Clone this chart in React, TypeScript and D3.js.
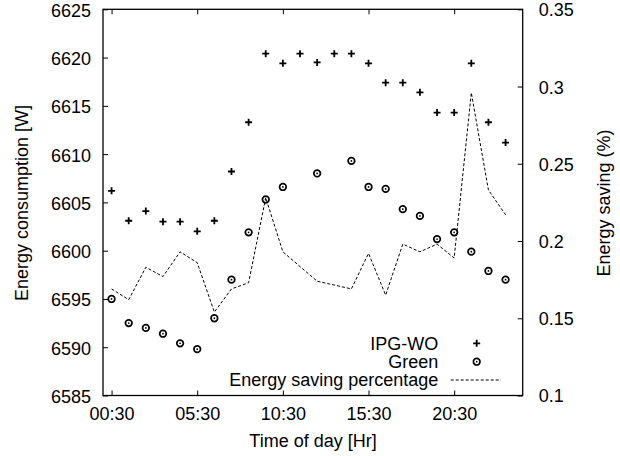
import React, { useEffect, useRef } from 'react'
import { axisBottom, axisLeft, axisRight, axisTop, line, scaleLinear, select } from 'd3'

const times = [
  '00:30', '01:30', '02:30', '03:30', '04:30', '05:30', '06:30', '07:30',
  '08:30', '09:30', '10:30', '11:30', '12:30', '13:30', '14:30', '15:30',
  '16:30', '17:30', '18:30', '19:30', '20:30', '21:30', '22:30', '23:30'
]
const xTickLabels = ['00:30', '05:30', '10:30', '15:30', '20:30']
const yTicks = [6585, 6590, 6595, 6600, 6605, 6610, 6615, 6620, 6625]
const y2Ticks = [0.1, 0.15, 0.2, 0.25, 0.3, 0.35]

const ipgWo = [
  6606.2, 6603.1, 6604.1, 6603.0, 6603.0, 6602.0, 6603.1, 6608.2,
  6613.3, 6620.4, 6619.4, 6620.4, 6619.5, 6620.4, 6620.4, 6619.4,
  6617.4, 6617.4, 6616.4, 6614.3, 6614.3, 6619.4, 6613.3, 6611.2
]
const green = [
  6595.0, 6592.5, 6592.0, 6591.4, 6590.4, 6589.8, 6593.0, 6597.0,
  6601.9, 6605.3, 6606.6, null, 6608.0, null, 6609.3, 6606.6,
  6606.4, 6604.3, 6603.6, 6601.2, 6601.9, 6599.9, 6597.9, 6597.0
]
const saving = [
  0.169, 0.162, 0.183, 0.177, 0.193, 0.186, 0.154, 0.169,
  0.173, 0.228, 0.193, null, 0.174, null, 0.169, 0.192,
  0.165, 0.198, 0.193, 0.198, 0.189, 0.296, 0.233, 0.217
]

const FONT = '"Liberation Sans", Arial, sans-serif'
const FS = 18

const Axis = ({ axis, transform, dy }) => {
  const ref = useRef(null)
  useEffect(() => {
    if (ref.current) {
      const g = select(ref.current)
      g.call(axis)
      g.select('.domain').remove()
      g.selectAll('line').attr('stroke', '#000').attr('stroke-width', 1)
      g.selectAll('text').attr('font-family', FONT).attr('font-size', FS).attr('fill', '#000')
      if (dy) g.selectAll('text').attr('dy', dy)
    }
  }, [axis])
  return <g ref={ref} transform={transform} />
}

const Plus = ({ x, y }) => (
  <path d={`M${x - 3.5},${y}H${x + 3.5}M${x},${y - 3.5}V${y + 3.5}`} stroke="#000" strokeWidth={1.8} />
)
const Ring = ({ x, y }) => (
  <g>
    <circle cx={x} cy={y} r={3.3} fill="none" stroke="#000" strokeWidth={1.7} />
    <circle cx={x} cy={y} r={0.9} fill="#000" />
  </g>
)

const App = () => {
  const left = 103
  const right = 522.7
  const top = 9.3
  const bottom = 395.5
  const width = right - left
  const height = bottom - top

  const x = scaleLinear().domain([-0.5, 24]).range([0, width])
  const y = scaleLinear().domain([6585, 6625]).range([height, 0])
  const y2 = scaleLinear().domain([0.1, 0.35]).range([height, 0])

  const xTickIdx = xTickLabels.map((t) => times.indexOf(t))
  const fmtX = (d) => times[d]

  const xBottom = axisBottom(x).tickValues(xTickIdx).tickFormat(fmtX).tickSize(-5).tickPadding(12)
  const xTop = axisTop(x).tickValues(xTickIdx).tickFormat(() => '').tickSize(-5)
  const yLeft = axisLeft(y).tickValues(yTicks).tickFormat((d) => String(d)).tickSize(-5).tickPadding(12)
  const yRight = axisRight(y2).tickValues(y2Ticks).tickFormat((d) => String(d)).tickSize(-5).tickPadding(16)

  const savingPts = saving
    .map((v, i) => [i, v])
    .filter((d) => d[1] !== null)
  const savingLine = line()
    .x((d) => x(d[0]))
    .y((d) => y2(d[1]))

  // legend, absolute page coords
  const legendTextX = 438.3
  const legendMarkX = 476.7
  const legendRows = [343.3, 361.7, 380]

  return (
    <svg width={620} height={456} style={{ position: 'absolute', left: 0, top: 0, background: '#fff' }}>
      <g transform={`translate(${left},${top})`}>
        <path d={savingLine(savingPts)} fill="none" stroke="#000" strokeWidth={1} strokeDasharray="3,2" />
        {ipgWo.map((v, i) => (
          <Plus key={`p${i}`} x={x(i)} y={y(v)} />
        ))}
        {green.map((v, i) => (v === null ? null : <Ring key={`g${i}`} x={x(i)} y={y(v)} />))}

        <Axis axis={xBottom} transform={`translate(0,${height})`} />
        <Axis axis={xTop} transform="translate(0,0)" />
        <Axis axis={yLeft} transform="translate(0,0)" dy="0.39em" />
        <Axis axis={yRight} transform={`translate(${width},0)`} dy="0.36em" />
        <rect x={0} y={0} width={width} height={height} fill="none" stroke="#000" strokeWidth={1.3} />
      </g>
      <g fontFamily={FONT} fontSize={FS} fill="#000">
        <text x={legendTextX} y={legendRows[0]} textAnchor="end" dy="0.36em">IPG-WO</text>
        <text x={legendTextX} y={legendRows[1]} textAnchor="end" dy="0.36em">Green</text>
        <text x={legendTextX} y={legendRows[2]} textAnchor="end" dy="0.36em">Energy saving percentage</text>
        <Plus x={legendMarkX} y={legendRows[0]} />
        <Ring x={legendMarkX} y={legendRows[1]} />
        <line x1={450.7} x2={501} y1={legendRows[2]} y2={legendRows[2]} stroke="#000" strokeWidth={1} strokeDasharray="3,2" />

        <text x={313} y={447}>
          <tspan textAnchor="middle">Time of day [Hr]</tspan>
        </text>
        <text transform={`translate(28,203) rotate(-90)`} textAnchor="middle">Energy consumption [W]</text>
        <text transform={`translate(610,203) rotate(-90)`} textAnchor="middle">Energy saving (%)</text>
      </g>
    </svg>
  )
}

export default App
